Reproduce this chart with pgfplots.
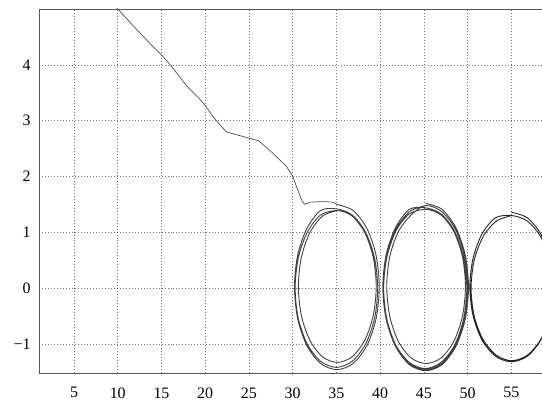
\documentclass[border=0pt]{standalone}
\usepackage{pgfplots}
\pgfplotsset{compat=1.18}
\usepackage{fontspec}
\setmainfont{Liberation Serif}

% trajectory: descent, then three limit cycles
\pgfplotstableread{
x y
9.4 5.10
10.0 5.00
12.0 4.66
14.0 4.33
15.0 4.18
16.0 4.00
17.0 3.80
18.0 3.60
19.3 3.40
20.1 3.25
21.0 3.05
22.4 2.80
24.0 2.73
26.1 2.64
27.5 2.45
29.3 2.18
30.0 2.00
30.6 1.75
31.1 1.55
31.4 1.50
32.0 1.54
33.4 1.55
34.6 1.54
35.05 1.50
}\descent

\pgfplotstableread{
x y
35.05 1.50
36.91 1.39
38.48 1.07
39.53 0.59
39.90 0.02
39.53 -0.55
38.48 -1.03
36.91 -1.35
35.05 -1.46
33.19 -1.35
31.62 -1.03
30.57 -0.55
30.20 0.02
30.57 0.59
31.62 1.07
33.19 1.39
35.00 1.42
36.81 1.31
38.34 1.00
39.36 0.54
39.72 0.00
39.36 -0.54
38.34 -1.00
36.81 -1.31
35.00 -1.42
33.19 -1.31
31.66 -1.00
30.64 -0.54
30.28 0.00
30.64 0.54
31.66 1.00
33.19 1.31
35.10 1.39
36.80 1.29
38.25 0.99
39.21 0.55
39.55 0.03
39.21 -0.49
38.25 -0.93
36.80 -1.23
35.10 -1.33
33.40 -1.23
31.95 -0.93
30.99 -0.49
30.65 0.03
30.99 0.55
31.95 0.99
33.40 1.29
35.10 1.39
}\cycleA

\pgfplotstableread{
x y
45.20 1.52
47.08 1.41
48.67 1.08
49.73 0.59
50.10 0.02
49.73 -0.55
48.67 -1.04
47.08 -1.37
45.20 -1.48
43.33 -1.37
41.74 -1.04
40.67 -0.55
40.30 0.02
40.67 0.59
41.74 1.08
43.33 1.41
45.15 1.44
46.97 1.33
48.51 1.02
49.54 0.55
49.90 0.00
49.54 -0.55
48.51 -1.02
46.97 -1.33
45.15 -1.44
43.33 -1.33
41.79 -1.02
40.76 -0.55
40.40 0.00
40.76 0.55
41.79 1.02
43.33 1.33
45.25 1.41
46.97 1.31
48.43 1.01
49.41 0.56
49.75 0.03
49.41 -0.50
48.43 -0.95
46.97 -1.25
45.25 -1.35
43.53 -1.25
42.07 -0.95
41.09 -0.50
40.75 0.03
41.09 0.56
42.07 1.01
43.53 1.31
45.20 1.48
47.05 1.37
48.62 1.05
49.66 0.57
50.03 0.01
49.66 -0.55
48.62 -1.03
47.05 -1.35
45.20 -1.46
43.35 -1.35
41.79 -1.03
40.74 -0.55
40.37 0.01
40.74 0.57
41.79 1.05
43.35 1.37
45.20 1.48
}\cycleB

\pgfplotstableread{
x y
55.00 1.36
56.82 1.26
58.36 0.97
59.39 0.53
59.75 0.02
59.39 -0.49
58.36 -0.93
56.82 -1.22
55.00 -1.32
53.18 -1.22
51.64 -0.93
50.61 -0.49
50.25 0.02
50.61 0.53
51.64 0.97
53.18 1.26
55.05 1.30
56.83 1.20
58.35 0.92
59.36 0.50
59.71 0.00
59.36 -0.50
58.35 -0.92
56.83 -1.20
55.05 -1.30
53.27 -1.20
51.76 -0.92
50.75 -0.50
50.39 0.00
50.75 0.50
51.76 0.92
53.27 1.20
55.05 1.30
}\cycleC

\begin{document}
\begin{tikzpicture}
\begin{axis}[
    name=ax,
    scale only axis,
    width=503bp, height=364bp,
    xmin=1, xmax=58.5,
    ymin=-1.52, ymax=5,
    axis x line=box,
    axis y line=left,
    axis line style={black!65, line width=0.8pt, -},
    xtick={5,10,...,55},
    ytick={-1,0,...,4},
    yticklabels={−1,0,1,2,3,4},
    major tick length=0pt,
    grid=major,
    major grid style={dash pattern=on 1pt off 2pt, black!55, line width=0.6pt},
    tick label style={font=\fontsize{16}{19}\selectfont},
    xticklabel style={yshift=-11bp},
    yticklabel style={xshift=-5bp},
    /pgf/number format/assume math mode=true,
]
\addplot[black!70, line width=0.7pt, no markers] table {\descent};
\addplot[black!75, line width=0.9pt, no markers, smooth] table {\cycleA};
\addplot[black!75, line width=0.9pt, no markers, smooth] table {\cycleB};
\addplot[black!85, line width=0.9pt, no markers, smooth] table {\cycleC};
\end{axis}
\pgfresetboundingbox
\path ([shift={(-39bp,-30bp)}]ax.south west) rectangle ([shift={(0bp,9bp)}]ax.north east);
\end{tikzpicture}
\end{document}
